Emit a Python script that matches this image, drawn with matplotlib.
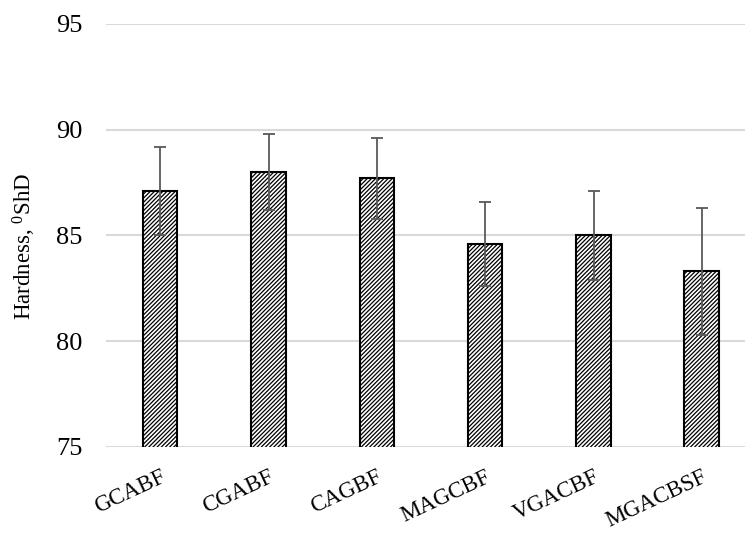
import matplotlib.pyplot as plt

plt.rcParams['font.family'] = ['Liberation Serif', 'DejaVu Serif']
plt.rcParams['mathtext.fontset'] = 'custom'
plt.rcParams['mathtext.rm'] = 'Liberation Serif'
plt.rcParams['hatch.color'] = '#4a4a4a'
plt.rcParams['hatch.linewidth'] = 0.9

samples = ["GCABF", "CGABF", "CAGBF", "MAGCBF", "VGACBF", "MGACBSF"]
hardness = [87.1, 88.0, 87.7, 84.6, 85.0, 83.3]
errors = [2.1, 1.8, 1.9, 2.0, 2.1, 3.0]

fig = plt.figure(figsize=(7.45, 5.34), dpi=100)
ax = fig.add_axes([106 / 745, 1 - 447 / 534, 650 / 745, 423 / 534])

x = range(len(samples))
ax.bar(x, hardness, width=0.32, bottom=0, color="white", edgecolor="black",
       linewidth=1.5, hatch="////////", zorder=2)
ax.errorbar(x, hardness, yerr=errors, fmt="none", ecolor="#595959",
            elinewidth=1.3, capsize=4, capthick=1.3, zorder=3)

ax.set_xlim(-0.5, len(samples) - 0.5)
ax.set_ylim(75, 95)
ax.set_yticks([75, 80, 85, 90, 95])
ax.grid(axis="y", color="#d9d9d9", linewidth=1.5, zorder=0)
ax.set_axisbelow(True)
for s in ax.spines.values():
    s.set_visible(False)

ax.tick_params(axis="y", length=0, pad=17, labelsize=19)
ax.tick_params(axis="x", length=0, pad=14, labelsize=16.5)
ax.set_xticks(list(x))
ax.set_xticklabels(samples, rotation=25, ha="right", rotation_mode="anchor")
ax.set_ylabel(r"Hardness, $\mathregular{^0}$ShD", fontsize=16.5)
ax.yaxis.set_label_coords(-0.105, 0.475)

fig.savefig("out.png", dpi=100)
